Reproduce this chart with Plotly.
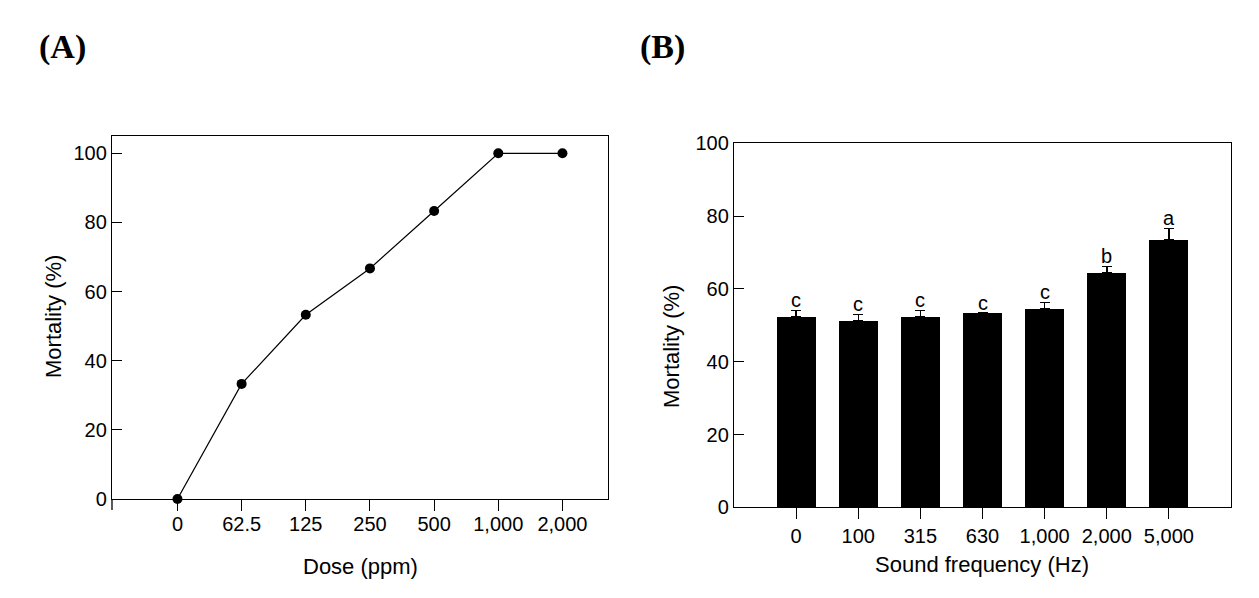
import plotly.graph_objects as go

# Panel A data
dose_labels = ["0", "62.5", "125", "250", "500", "1,000", "2,000"]
dose_mortality = [0, 33.3, 53.3, 66.7, 83.3, 100, 100]

# Panel B data
freq_labels = ["0", "100", "315", "630", "1,000", "2,000", "5,000"]
freq_mortality = [52.3, 51.2, 52.3, 53.4, 54.5, 64.4, 73.4]
freq_error = [1.8, 1.8, 1.8, 0.0, 1.8, 1.8, 3.2]
freq_letters = ["c", "c", "c", "c", "c", "b", "a"]

W, H = 1259, 598
OFF = 8  # page body margin
def px(x):
    return (x - OFF) / W
def py(y):
    return 1 - (y - OFF) / H

FONT = "Liberation Sans, Arial, sans-serif"
SERIF = "Liberation Serif, Times New Roman, serif"

fig = go.Figure()

idxA = list(range(len(dose_labels)))
fig.add_trace(go.Scatter(
    x=idxA, y=dose_mortality, mode="lines+markers",
    line=dict(color="black", width=1.2),
    marker=dict(color="black", size=10),
    xaxis="x", yaxis="y", showlegend=False, cliponaxis=False,
))

idxB = list(range(len(freq_labels)))
fig.add_trace(go.Bar(
    x=idxB, y=freq_mortality, width=0.63,
    marker=dict(color="black", line=dict(width=0)),
    error_y=dict(type="data", array=freq_error, arrayminus=[0] * len(freq_error),
                 symmetric=False, color="black", thickness=1.5, width=5),
    xaxis="x2", yaxis="y2", showlegend=False,
))

axis_common = dict(showgrid=False, zeroline=False, showline=True, linecolor="black",
                   linewidth=1.3, mirror=True, tickcolor="black", tickwidth=1.2,
                   automargin=False,
                   tickfont=dict(family=FONT, size=20, color="black"))

fig.update_layout(
    width=W, height=H, autosize=False,
    margin=dict(l=0, r=0, t=0, b=0, pad=0, autoexpand=False),
    paper_bgcolor="white", plot_bgcolor="white",
    showlegend=False,
    bargap=0,
    xaxis=dict(domain=[px(112), px(608)], range=[-1.02, 6.71], tickmode="array",
               tickvals=idxA, ticktext=dose_labels, ticks="outside", ticklen=11,
               ticklabelstandoff=-4,
               anchor="y", **axis_common),
    yaxis=dict(domain=[py(499), py(136)], range=[0, 105], tickmode="array",
               tickvals=[0, 20, 40, 60, 80, 100], ticks="inside", ticklen=10,
               anchor="x", **axis_common),
    xaxis2=dict(domain=[px(734), px(1231)], range=[-1, 7], tickmode="array",
                tickvals=idxB, ticktext=freq_labels, ticks="outside", ticklen=11,
                anchor="y2", **axis_common),
    yaxis2=dict(domain=[py(507.3), py(143.3)], range=[0, 100], tickmode="array",
                tickvals=[0, 20, 40, 60, 80, 100], ticks="inside", ticklen=10,
                anchor="x2", **axis_common),
)

# left axis extension below the x axis in panel A
fig.add_shape(type="line", xref="paper", yref="paper",
              x0=px(112), x1=px(112), y0=py(510), y1=py(499),
              line=dict(color="black", width=1.3))

annotations = [
    dict(text="<b>(A)</b>", x=px(62), y=py(47), font=dict(family=SERIF, size=34, color="black")),
    dict(text="<b>(B)</b>", x=px(662), y=py(47), font=dict(family=SERIF, size=34, color="black")),
    dict(text="Dose (ppm)", x=px(360), y=py(566), font=dict(family=FONT, size=22, color="black")),
    dict(text="Mortality (%)", x=px(53), y=py(317), textangle=-90, font=dict(family=FONT, size=22, color="black")),
    dict(text="Sound frequency (Hz)", x=px(982), y=py(564), font=dict(family=FONT, size=22, color="black")),
    dict(text="Mortality (%)", x=px(671), y=py(347), textangle=-90, font=dict(family=FONT, size=22, color="black")),
]
for a in annotations:
    a.update(xref="paper", yref="paper", showarrow=False, xanchor="center", yanchor="middle")
    fig.add_annotation(**a)

for i, (v, e, l) in enumerate(zip(freq_mortality, freq_error, freq_letters)):
    fig.add_annotation(x=i, y=v + e, xref="x2", yref="y2", text=l, showarrow=False,
                       xanchor="center", yanchor="bottom", yshift=-3,
                       font=dict(family=FONT, size=20, color="black"))

fig.write_html("out.html")
